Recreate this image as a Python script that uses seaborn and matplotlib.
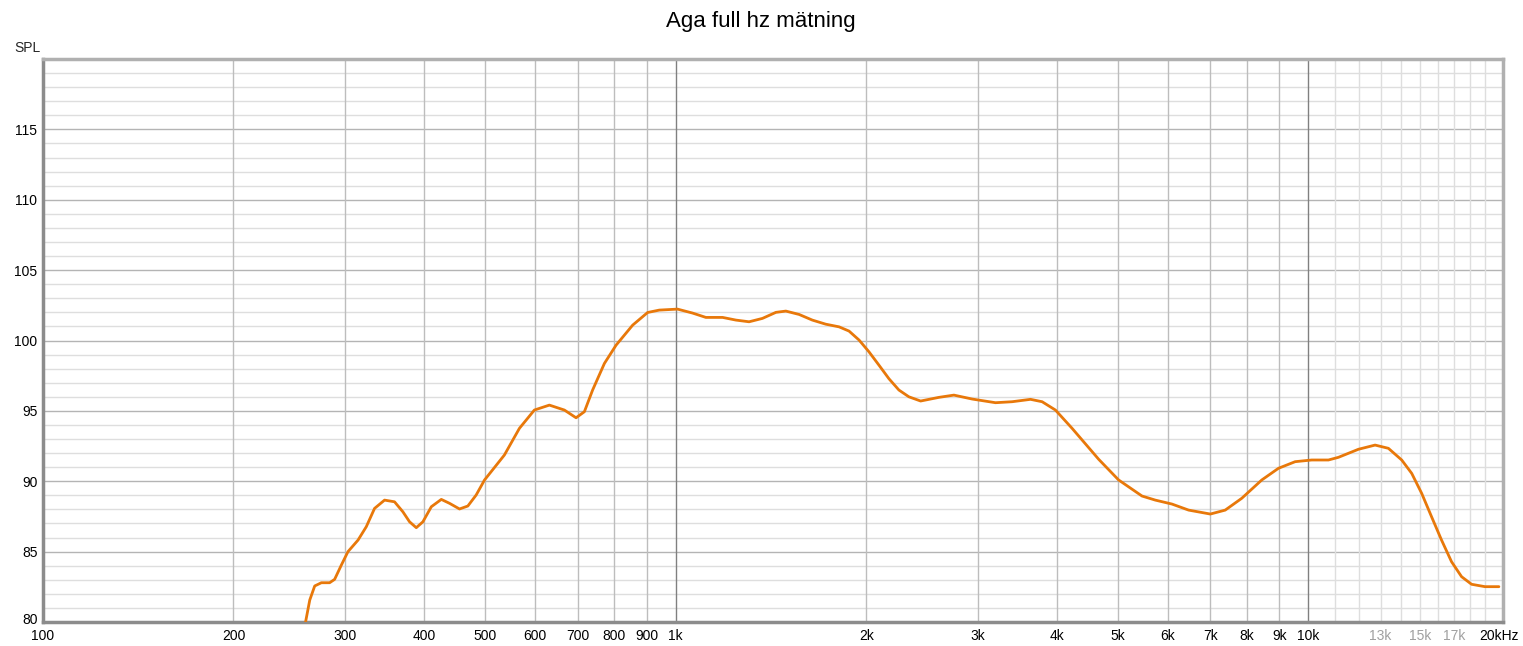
import numpy as np
import pandas as pd
import matplotlib
matplotlib.use("Agg")
import matplotlib.pyplot as plt
import matplotlib.transforms as mtransforms
import seaborn as sns

# frequency response (Hz, dB SPL)
freq = [260, 264, 268.8, 275.4, 283.8, 289, 296.2, 303.4, 314.7, 324.3,
        334.2, 346.6, 359.4, 370.5, 379.6, 389, 398.5, 410.9, 426.1, 439.1,
        455.3, 469.3, 483.7, 498.7, 536, 566.2, 597.9, 631.4, 666.8, 695.8,
        717.2, 739, 771.4, 804.9, 854.9, 902.8, 941.9, 1006.5, 1063, 1116,
        1186, 1245, 1306, 1371, 1440, 1493, 1567, 1644, 1726, 1812, 1879,
        1949, 2020, 2095, 2173, 2253, 2336, 2438, 2606, 2752, 2942, 3202,
        3401, 3637, 3794, 3982, 4231, 4661, 5012, 5457, 5728, 6085, 6466,
        6997, 7387, 7846, 8438, 8966, 9528, 10120, 10755, 11153, 11992,
        12745, 13377, 14041, 14562, 15100, 15652, 16232, 16834, 17459,
        18105, 19010, 20000]
spl = [80.0, 81.56, 82.56, 82.79, 82.79, 83.03, 84.05, 85.0, 85.82, 86.77,
       88.07, 88.66, 88.54, 87.83, 87.12, 86.7, 87.12, 88.19, 88.71, 88.43,
       88.03, 88.24, 89.02, 90.09, 91.86, 93.76, 95.06, 95.41, 95.06, 94.51,
       94.94, 96.48, 98.37, 99.67, 101.09, 101.99, 102.16, 102.23, 101.95,
       101.64, 101.64, 101.45, 101.33, 101.57, 102.0, 102.09, 101.85,
       101.45, 101.16, 100.97, 100.67, 100.03, 99.2, 98.25, 97.28, 96.48,
       96.0, 95.7, 95.96, 96.12, 95.84, 95.58, 95.65, 95.82, 95.65, 95.06,
       93.76, 91.56, 90.09, 88.95, 88.66, 88.38, 87.95, 87.67, 87.95, 88.79,
       90.09, 90.92, 91.39, 91.51, 91.51, 91.7, 92.27, 92.57, 92.34, 91.51,
       90.56, 89.14, 87.48, 85.82, 84.28, 83.22, 82.68, 82.51, 82.51]

xtick_pos = [100, 200, 300, 400, 500, 600, 700, 800, 900, 1000, 2000, 3000,
             4000, 5000, 6000, 7000, 8000, 9000, 10000, 13000, 15000, 17000,
             20000]
xtick_lab = ["100", "200", "300", "400", "500", "600", "700", "800", "900",
             "1k", "2k", "3k", "4k", "5k", "6k", "7k", "8k", "9k", "10k",
             "13k", "15k", "17k", "20kHz"]
ytick_pos = [80, 85, 90, 95, 100, 105, 110, 115]

sns.set_style("white")
plt.rcParams['font.family'] = ['Liberation Sans', 'DejaVu Sans']

fig = plt.figure(figsize=(15.23, 6.46), dpi=100)
ax = fig.add_axes([43 / 1523, 24 / 646, 1460 / 1523, 563 / 646])

# grid
for db in range(81, 120):
    c = "#b4b4b4" if db % 5 == 0 else "#dedede"
    ax.axhline(db, color=c, lw=1, zorder=0)
grid_v = list(range(200, 1000, 100)) + list(range(2000, 10000, 1000))
for f in grid_v:
    ax.axvline(f, color="#bdbdbd", lw=1, zorder=0)
for f in range(11000, 20000, 1000):
    ax.axvline(f, color="#dedede", lw=1, zorder=0)
for f in [1000, 10000]:
    ax.axvline(f, color="#808080", lw=1, zorder=0)

df = pd.DataFrame({"freq": freq, "spl": spl})
sns.lineplot(data=df, x="freq", y="spl", color="#e8780a", lw=2, ax=ax,
             zorder=3, clip_on=True)

ax.set_xscale("log")
ax.set_xlim(100, 20300)
ax.set_ylim(80, 120)
ax.set_xticks(xtick_pos)
ax.set_xticklabels(xtick_lab)
ax.xaxis.set_minor_locator(matplotlib.ticker.NullLocator())
ax.set_yticks(ytick_pos)
ax.set_yticklabels([str(v) for v in ytick_pos])
ax.tick_params(axis="both", length=0, labelsize=10, colors="#000000")
ax.tick_params(axis="x", pad=5)
ax.tick_params(axis="y", pad=4)
for lab in ax.get_xticklabels():
    if lab.get_text() in ("13k", "15k", "17k"):
        lab.set_color("#a0a0a0")
# nudge the bottom y label up a little so it clears the "100" label
lab80 = ax.get_yticklabels()[0]
lab80.set_transform(lab80.get_transform() +
                    mtransforms.ScaledTranslation(0, 3 / 100, fig.dpi_scale_trans))
ax.set_xlabel("")
ax.set_ylabel("")

for side in ["left", "bottom"]:
    ax.spines[side].set_color("#8c8c8c")
    ax.spines[side].set_linewidth(2.5)
for side in ["top", "right"]:
    ax.spines[side].set_color("#b0b0b0")
    ax.spines[side].set_linewidth(2.5)

fig.text(27 / 1523, 1 - 48 / 646, "SPL", ha="center", va="center",
         fontsize=10)
fig.text(761 / 1523, 1 - 22 / 646, "Aga full hz mätning", ha="center",
         va="center", fontsize=16, color="#000000")

fig.savefig("out.png", dpi=100)
